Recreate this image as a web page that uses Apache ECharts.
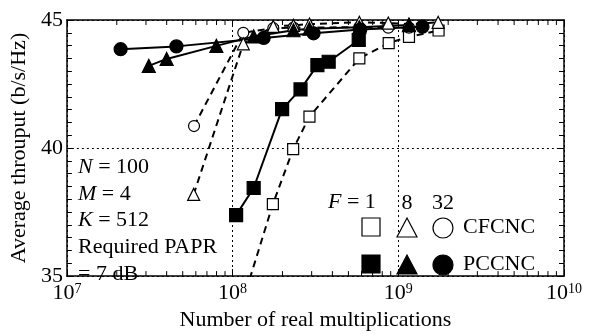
<!DOCTYPE html>
<html><head><meta charset="utf-8">
<script src="https://cdn.jsdelivr.net/npm/echarts@6/dist/echarts.min.js"></script>
<style>html,body{margin:0;padding:0;background:#fff}#c{width:590px;height:336px}</style>
</head><body><div id="c"></div>
<script>
// CFCNC (open markers, dashed) and PCCNC (filled markers, solid)
const xCF1 = [1.15e8, 1.75e8, 2.32e8, 2.91e8, 5.82e8, 8.75e8, 1.16e9, 1.75e9];
const yCF1 = [34.0, 37.81, 39.96, 41.23, 43.5, 44.1, 44.34, 44.59];
const xPC1 = [1.05e8, 1.34e8, 1.99e8, 2.57e8, 3.25e8, 3.80e8, 5.77e8];
const yPC1 = [37.38, 38.44, 41.52, 42.29, 43.24, 43.37, 44.22];
const xCF8 = [5.82e7, 1.16e8, 1.76e8, 2.33e8, 2.91e8, 5.82e8, 8.7e8, 1.16e9, 1.74e9];
const yCF8 = [38.19, 44.07, 44.75, 44.79, 44.84, 44.91, 44.88, 44.84, 44.91];
const xCF32 = [5.85e7, 1.16e8, 1.76e8, 2.33e8, 5.82e8, 8.7e8, 1.16e9];
const yCF32 = [40.86, 44.5, 44.68, 44.7, 44.72, 44.7, 44.7];
const xPC8 = [3.12e7, 4.0e7, 7.98e7, 1.34e8, 2.33e8, 2.91e8, 5.82e8, 1.16e9];
const yPC8 = [43.21, 43.48, 43.99, 44.36, 44.6, 44.66, 44.72, 44.8];
const xPC32 = [2.11e7, 4.58e7, 1.54e8, 3.08e8, 5.9e8, 1.40e9];
const yPC32 = [43.86, 43.97, 44.30, 44.48, 44.63, 44.74];
const xMinorTicks = [2e7,3e7,4e7,5e7,6e7,7e7,8e7,9e7,2e8,3e8,4e8,5e8,6e8,7e8,8e8,9e8,2e9,3e9,4e9,5e9,6e9,7e9,8e9,9e9];
const yTicks = [35, 40, 45];

const FONT = 'Liberation Serif';
const FS = 22;
const pairs = (xs, ys) => xs.map((x, i) => [x, ys[i]]);

function mk(name, xs, ys, symbol, size, filled, dashed) {
  return {
    name, type: 'line', data: pairs(xs, ys), symbol, symbolSize: size,
    clip: true,
    lineStyle: { color: '#000', width: 2, type: dashed ? [7, 5] : 'solid' },
    itemStyle: { color: filled ? '#000' : '#fff', borderColor: '#000', borderWidth: 1.2, opacity: 1 },
    emphasis: { disabled: true }, animation: false, z: 3
  };
}
const italicRich = { i: { fontStyle: 'italic', fontFamily: FONT, fontSize: FS } };

const chart = echarts.init(document.getElementById('c'), null, { renderer: 'canvas' });
chart.setOption({
  animation: false,
  textStyle: { fontFamily: FONT },
  grid: { left: 66, right: 26, top: 20, bottom: 47 },
  xAxis: [
    {
      type: 'log', logBase: 10, min: 1e7, max: 1e10, position: 'bottom',
      name: 'Number of real multiplications', nameLocation: 'middle', nameGap: 24,
      nameTextStyle: { fontFamily: FONT, fontSize: FS, color: '#000' },
      axisLine: { show: true, onZero: false, lineStyle: { color: '#000', width: 1.5 } },
      axisTick: { show: true, inside: true, length: 7, lineStyle: { color: '#000' } },
      axisLabel: {
        show: true, margin: 6, showMinLabel: true, showMaxLabel: true,
        formatter: v => '{b|10}{s|' + Math.round(Math.log10(v)) + '}',
        rich: {
          b: { fontFamily: FONT, fontSize: FS, color: '#000', lineHeight: 22 },
          s: { fontFamily: FONT, fontSize: 14, color: '#000', verticalAlign: 'top', lineHeight: 14 }
        }
      },
      splitLine: { show: true, lineStyle: { color: '#000', width: 1, type: [2, 3] } }
    },
    {
      type: 'log', logBase: 10, min: 1e7, max: 1e10, position: 'top',
      axisLine: { show: true, onZero: false, lineStyle: { color: '#000', width: 1.5 } },
      axisTick: { show: true, inside: true, length: 7, lineStyle: { color: '#000' } },
      axisLabel: { show: false }, splitLine: { show: false }
    }
  ],
  yAxis: [
    {
      type: 'value', min: 35, max: 45, interval: 5, position: 'left',
      name: 'Average throuput (b/s/Hz)', nameLocation: 'middle', nameGap: 32,
      nameTextStyle: { fontFamily: FONT, fontSize: FS, color: '#000' },
      axisLine: { show: true, onZero: false, lineStyle: { color: '#000', width: 1.5 } },
      axisTick: { show: true, inside: true, length: 6, lineStyle: { color: '#000' } },
      minorTick: { show: true, splitNumber: 10, length: 5, lineStyle: { color: '#000' } },
      axisLabel: { show: true, margin: 4, fontFamily: FONT, fontSize: FS, color: '#000',
        formatter: v => yTicks.includes(v) ? String(v) : '' },
      splitLine: { show: true, lineStyle: { color: '#000', width: 1, type: [2, 3] } }
    },
    {
      type: 'value', min: 35, max: 45, interval: 5, position: 'right',
      axisLine: { show: true, onZero: false, lineStyle: { color: '#000', width: 1.5 } },
      axisTick: { show: true, inside: true, length: 6, lineStyle: { color: '#000' } },
      minorTick: { show: true, splitNumber: 10, length: 5, lineStyle: { color: '#000' } },
      axisLabel: { show: false }, splitLine: { show: false }
    }
  ],
  series: [
    {
      type: 'custom', xAxisIndex: 0, yAxisIndex: 0, silent: true, z: 2,
      data: xMinorTicks.map(v => [v, 40]),
      renderItem: (params, api) => {
        const b = api.coord([api.value(0), 35]);
        const t = api.coord([api.value(0), 45]);
        return { type: 'group', children: [
          { type: 'line', shape: { x1: b[0], y1: b[1], x2: b[0], y2: b[1] - 5 }, style: { stroke: '#000', lineWidth: 1 } },
          { type: 'line', shape: { x1: t[0], y1: t[1], x2: t[0], y2: t[1] + 5 }, style: { stroke: '#000', lineWidth: 1 } }
        ] };
      }
    },
    mk('CF1', xCF1, yCF1, 'rect', 11, false, true),
    mk('PC1', xPC1, yPC1, 'rect', 13, true, false),
    mk('CF32', xCF32, yCF32, 'circle', 11, false, true),
    mk('CF8', xCF8, yCF8, 'triangle', 12, false, true),
    mk('PC32', xPC32, yPC32, 'circle', 13, true, false),
    mk('PC8', xPC8, yPC8, 'triangle', 13, true, false)
  ],
  graphic: [
    { type: 'text', left: 78, top: 156, z: 10, style: { text: '{i|N} = 100', font: FS + 'px ' + FONT, fill: '#000', rich: italicRich } },
    { type: 'text', left: 78, top: 183, z: 10, style: { text: '{i|M} = 4', font: FS + 'px ' + FONT, fill: '#000', rich: italicRich } },
    { type: 'text', left: 78, top: 209, z: 10, style: { text: '{i|K} = 512', font: FS + 'px ' + FONT, fill: '#000', rich: italicRich } },
    { type: 'text', left: 78, top: 236, z: 10, style: { text: 'Required PAPR', font: FS + 'px ' + FONT, fill: '#000' } },
    { type: 'text', left: 78, top: 263, z: 10, style: { text: '= 7 dB', font: FS + 'px ' + FONT, fill: '#000' } },
    { type: 'text', left: 328, top: 191, z: 10, style: { text: '{i|F} = 1', font: FS + 'px ' + FONT, fill: '#000', rich: italicRich } },
    { type: 'text', x: 407, y: 203, z: 10, style: { text: '8', font: FS + 'px ' + FONT, fill: '#000', align: 'center', verticalAlign: 'middle' } },
    { type: 'text', x: 443, y: 203, z: 10, style: { text: '32', font: FS + 'px ' + FONT, fill: '#000', align: 'center', verticalAlign: 'middle' } },
    { type: 'rect', z: 10, shape: { x: 362, y: 218, width: 18, height: 18 }, style: { fill: '#fff', stroke: '#000', lineWidth: 1.2 } },
    { type: 'rect', z: 10, shape: { x: 362, y: 255, width: 18, height: 18 }, style: { fill: '#000', stroke: '#000', lineWidth: 1.2 } },
    { type: 'polygon', z: 10, shape: { points: [[407, 218], [417, 237], [397, 237]] }, style: { fill: '#fff', stroke: '#000', lineWidth: 1.2 } },
    { type: 'polygon', z: 10, shape: { points: [[407, 255], [417, 274], [397, 274]] }, style: { fill: '#000', stroke: '#000', lineWidth: 1.2 } },
    { type: 'circle', z: 10, shape: { cx: 443, cy: 228, r: 10 }, style: { fill: '#fff', stroke: '#000', lineWidth: 1.2 } },
    { type: 'circle', z: 10, shape: { cx: 443, cy: 265, r: 10 }, style: { fill: '#000', stroke: '#000', lineWidth: 1.2 } },
    { type: 'text', left: 463, top: 216, z: 10, style: { text: 'CFCNC', font: FS + 'px ' + FONT, fill: '#000' } },
    { type: 'text', left: 463, top: 253, z: 10, style: { text: 'PCCNC', font: FS + 'px ' + FONT, fill: '#000' } }
  ]
});
</script></body></html>
